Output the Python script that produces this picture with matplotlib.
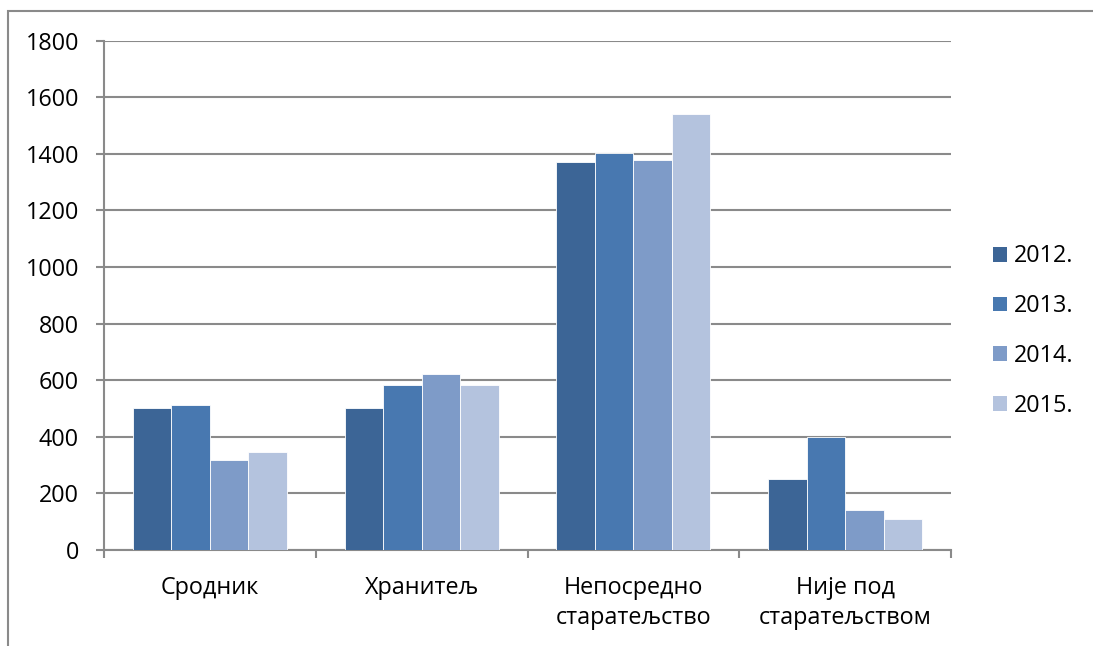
import matplotlib.pyplot as plt
import numpy as np
from matplotlib.patches import Patch, Rectangle

plt.rcParams['font.family'] = ['Open Sans', 'DejaVu Sans']

categories = ['Сродник', 'Хранитељ', 'Непосредно\nстаратељство', 'Није под\nстаратељством']
years = ['2012.', '2013.', '2014.', '2015.']
v2012 = [500, 500, 1370, 250]
v2013 = [511, 583, 1404, 400]
v2014 = [318, 622, 1378, 141]
v2015 = [347, 583, 1539, 108]
colors = ['#3c6596', '#4878b0', '#7e9bc8', '#b4c3de']

series = [v2012, v2013, v2014, v2015]
grid_c = '#8a8a8a'
fs = 16.8

fig = plt.figure(figsize=(10.93, 6.46), dpi=100)
ax = fig.add_axes([104/1093, 1 - 550/646, (951-104)/1093, (550-40.5)/646])

x = np.arange(len(categories))
w = 1/5.5  # gap width 150%
for j, vals in enumerate(series):
    ax.bar(x + (j - 1.5)*w, vals, width=w, color=colors[j],
           edgecolor='white', linewidth=0.6, zorder=3, label=years[j])

ax.set_xlim(-0.5, len(categories) - 0.5)
ax.set_ylim(0, 1800)
ax.set_yticks(np.arange(0, 1801, 200))
ax.yaxis.grid(True, color=grid_c, linewidth=1.5, zorder=0)
ax.set_axisbelow(True)

for s in ['top', 'right']:
    ax.spines[s].set_visible(False)
for s in ['left', 'bottom']:
    ax.spines[s].set_color(grid_c)
    ax.spines[s].set_linewidth(1.5)

ax.set_xticks(x)
ax.set_xticklabels(categories, fontsize=fs, linespacing=1.3)
ax.set_xticks(np.arange(-0.5, len(categories), 1), minor=True)
ax.tick_params(axis='x', which='major', length=0, pad=19)
ax.tick_params(axis='x', which='minor', length=6, width=1.5, color=grid_c)
ax.tick_params(axis='y', length=6, width=1.5, color=grid_c, labelsize=fs, pad=12)

handles = [Patch(facecolor=c, edgecolor='none') for c in colors]
fig.legend(handles, years, loc='center left', bbox_to_anchor=(984/1093, 1 - 331/646),
           frameon=False, fontsize=fs, handlelength=0.6, handleheight=0.6,
           handletextpad=0.3, labelspacing=1.1, borderaxespad=0)

# outer chart border (only top and left visible)
fig.patches.append(Rectangle((8/1093, -0.1), 1.2, 1 - 10.7/646 + 0.1,
                             transform=fig.transFigure, fill=False,
                             edgecolor=grid_c, linewidth=1.5))

fig.savefig('out.png', dpi=100)
